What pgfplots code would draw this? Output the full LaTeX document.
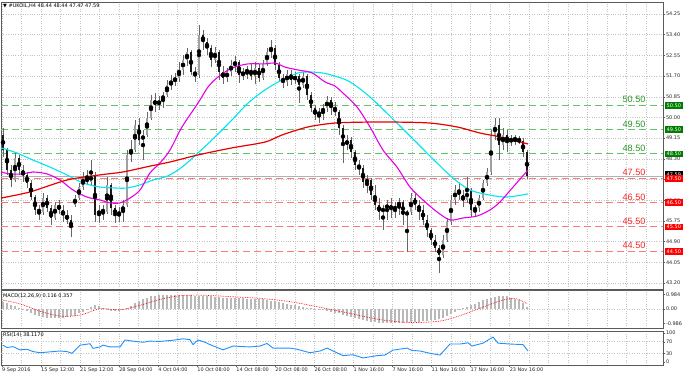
\documentclass[border=0pt]{standalone}
\usepackage{fontspec}
\setmainfont{DejaVu Sans}
\newfontfamily\labfont{Liberation Sans}
\usepackage{pgfplots}
\usepackage{pgfplotstable}
\pgfplotsset{compat=1.18}
\definecolor{lvgreen}{RGB}{100,195,100}
\definecolor{lvred}{RGB}{255,120,120}
\definecolor{txgreen}{RGB}{40,150,40}
\definecolor{txred}{RGB}{245,40,40}
\definecolor{boxgreen}{RGB}{0,125,0}
\definecolor{maR}{RGB}{230,0,0}
\definecolor{maC}{RGB}{0,230,240}
\definecolor{maM}{RGB}{230,0,230}
\definecolor{rsiblue}{RGB}{30,144,255}
\definecolor{bull}{RGB}{160,160,160}
\definecolor{gridc}{RGB}{195,195,195}
\definecolor{frame}{RGB}{90,90,90}
\newcommand{\sm}{\fontsize{5}{6}\selectfont}

\pgfplotstableread{
x o h l c
3 49.28 49.57 48.38 48.66
7 48.66 48.75 47.64 47.84
11 47.84 48.05 47.14 47.43
15 47.43 48.58 47.35 48.33
19 48.33 48.46 47.64 47.84
23 47.84 48.05 47.35 47.64
27 47.64 47.76 47.10 47.31
31 47.31 47.43 46.61 46.73
35 46.73 46.81 45.99 46.20
39 46.20 46.40 45.79 46.12
43 46.12 46.90 45.99 46.69
47 46.69 46.81 46.12 46.28
51 46.28 46.40 45.58 45.87
55 45.87 46.53 45.79 46.40
59 46.40 46.61 46.03 46.20
63 46.20 46.40 45.71 45.99
67 45.99 46.20 45.62 45.79
71 45.79 45.99 45.09 45.46
75 46.40 46.81 46.32 46.69
79 46.69 47.31 46.61 47.14
83 47.14 47.76 47.02 47.51
87 47.51 47.84 47.23 47.35
91 47.35 48.25 47.23 47.64
95 47.64 47.76 45.71 45.99
99 45.99 46.40 45.66 46.20
103 46.20 46.40 45.79 46.12
107 46.12 47.55 46.03 47.23
111 47.23 47.31 45.99 46.28
115 46.28 46.40 45.66 45.99
119 45.99 46.32 45.71 46.12
123 46.12 46.61 45.71 46.40
127 46.40 48.66 46.32 48.46
131 48.46 49.07 48.17 48.66
135 48.66 49.90 48.58 49.69
139 49.69 49.98 48.87 49.07
143 49.07 49.48 48.25 49.28
147 49.28 50.22 49.20 49.98
151 49.98 50.92 49.90 50.72
155 50.72 51.00 50.22 50.51
159 50.51 50.88 50.31 50.72
163 50.72 51.05 50.39 50.92
167 50.92 51.54 50.84 51.33
171 51.33 51.74 51.13 51.46
175 51.46 51.83 51.29 51.62
179 51.62 52.28 51.46 51.95
183 51.95 52.57 51.74 52.36
187 52.36 52.85 52.11 52.69
191 52.69 52.77 51.74 51.87
195 51.87 52.07 51.46 51.74
199 51.74 53.80 51.62 53.39
203 53.39 53.59 52.77 53.10
207 53.10 53.26 52.57 52.85
211 52.85 52.98 52.07 52.36
215 52.36 52.89 52.24 52.69
219 52.69 52.77 51.54 51.87
223 51.87 52.11 51.37 51.62
227 51.62 52.03 51.46 51.87
231 51.87 52.36 51.70 52.16
235 52.16 52.52 51.87 52.28
239 52.28 52.36 51.42 51.74
243 51.74 52.03 51.54 51.87
247 51.87 52.11 51.58 51.95
251 51.95 52.20 51.54 51.70
255 51.70 52.28 51.37 52.03
259 52.03 52.20 51.46 51.62
263 51.62 52.36 51.54 52.20
267 52.20 52.85 52.11 52.69
271 52.69 53.18 52.44 52.85
275 52.85 52.98 51.95 52.16
279 52.16 52.28 51.46 51.62
283 51.62 51.79 51.21 51.46
287 51.46 51.95 51.29 51.79
291 51.79 51.95 51.33 51.54
295 51.54 51.87 51.37 51.70
299 51.70 51.79 50.59 51.33
303 51.33 51.87 51.21 51.70
307 51.70 51.79 50.72 50.92
311 50.92 51.05 50.22 50.39
315 50.39 50.51 49.90 50.10
319 50.10 50.39 49.77 50.22
323 50.22 50.55 49.90 50.39
327 50.39 50.88 50.22 50.72
331 50.72 50.84 50.10 50.39
335 50.39 50.64 50.06 50.22
339 50.22 50.31 49.28 49.57
343 49.57 49.69 48.13 48.87
347 48.87 49.28 48.66 49.07
351 49.07 49.20 48.33 48.58
355 48.58 48.66 47.84 48.05
359 48.05 48.25 47.64 47.92
363 47.92 48.05 47.10 47.35
367 47.35 47.64 46.90 47.43
371 47.43 47.51 46.61 46.81
375 46.81 47.23 46.20 46.40
379 46.40 46.69 45.79 46.12
383 46.12 46.40 45.38 46.28
387 46.28 46.61 45.79 46.40
391 46.40 46.69 45.87 46.20
395 46.20 46.53 45.87 46.36
399 46.36 46.69 45.99 46.53
403 46.53 46.61 45.58 45.99
407 45.99 46.20 44.47 46.12
411 46.12 46.90 45.99 46.69
415 46.69 46.86 46.20 46.40
419 46.40 46.61 45.79 46.20
423 46.20 46.40 45.58 45.79
427 45.79 45.99 45.09 45.38
431 45.38 45.46 44.76 44.97
435 44.97 45.17 44.47 44.64
439 44.64 44.76 43.61 44.35
443 44.35 45.17 44.23 44.97
447 44.97 45.87 44.88 45.71
451 45.71 46.81 45.58 46.61
455 46.61 47.23 46.40 47.02
459 47.02 47.31 46.61 46.81
463 46.81 47.02 46.32 46.61
467 46.61 47.55 46.49 47.02
471 47.02 47.10 45.91 46.20
475 46.20 46.40 45.95 46.28
479 46.28 46.81 46.12 46.69
483 46.69 47.43 46.61 47.31
487 47.31 47.92 47.18 47.76
491 47.76 49.48 47.64 49.28
495 49.28 49.98 49.07 49.69
499 49.69 49.98 48.25 48.87
503 48.87 49.57 48.66 49.28
507 49.28 49.48 48.58 48.99
511 48.99 49.28 48.83 49.16
515 49.16 49.28 48.87 49.07
519 49.07 49.24 48.91 49.03
523 49.03 49.16 48.38 48.58
527 48.58 48.66 47.47 47.59
}\candles

\pgfplotstableread{
x v
3 0.50
7 0.40
11 0.30
15 0.18
19 0.07
23 -0.05
27 -0.16
31 -0.27
35 -0.38
39 -0.48
43 -0.56
47 -0.60
51 -0.62
55 -0.63
59 -0.62
63 -0.58
67 -0.54
71 -0.50
75 -0.45
79 -0.30
83 -0.17
87 -0.03
91 0.12
95 0.25
99 0.22
103 0.10
107 -0.05
111 -0.15
115 -0.15
119 -0.13
123 -0.10
127 0.05
131 0.20
135 0.40
139 0.57
143 0.68
147 0.78
151 0.86
155 0.89
159 0.92
163 0.95
167 0.97
171 0.98
175 0.98
179 0.97
183 0.96
187 0.95
191 0.93
195 0.91
199 0.90
203 0.89
207 0.87
211 0.85
215 0.82
219 0.80
223 0.78
227 0.76
231 0.75
235 0.74
239 0.73
243 0.72
247 0.71
251 0.70
255 0.69
259 0.67
263 0.66
267 0.62
271 0.56
275 0.51
279 0.46
283 0.40
287 0.35
291 0.30
295 0.25
299 0.20
303 0.14
307 0.08
311 0.04
315 -0.01
319 -0.05
323 -0.09
327 -0.14
331 -0.19
335 -0.24
339 -0.30
343 -0.38
347 -0.46
351 -0.54
355 -0.60
359 -0.67
363 -0.74
367 -0.80
371 -0.86
375 -0.89
379 -0.92
383 -0.95
387 -0.97
391 -0.98
395 -0.97
399 -0.95
403 -0.93
407 -0.91
411 -0.89
415 -0.87
419 -0.85
423 -0.83
427 -0.81
431 -0.78
435 -0.72
439 -0.65
443 -0.58
447 -0.45
451 -0.33
455 -0.20
459 -0.08
463 0.04
467 0.14
471 0.24
475 0.36
479 0.48
483 0.58
487 0.67
491 0.76
495 0.84
499 0.87
503 0.89
507 0.86
511 0.78
515 0.70
519 0.60
523 0.40
527 0.12
}\macd

\begin{document}
\begin{tikzpicture}
\useasboundingbox (0,0) rectangle (685bp,377bp);
\pgfplotsset{
  panel/.style={
    scale only axis, width=662bp, xmin=1, xmax=663,
    axis line style={draw=frame, line width=0.7bp},
    ytick pos=right, yticklabel pos=right,
    tick align=outside, major tick length=2bp,
    ytick style={draw=frame, line width=0.4bp},
    yticklabel style={font=\sm, text=black!85, inner sep=0.8bp},
    xtick={2,41.05,80.1,119.15,158.2,197.25,236.3,275.35,314.4,353.45,392.5,431.55,470.6,509.65},
    minor xtick={2,21.52,...,663},
    xminorgrids, minor grid style={gridc, dotted, line width=0.5bp},
    major grid style={gridc, dotted, line width=0.5bp},
    xtick style={draw=none}, minor tick length=0pt,
    xticklabels={},
  },
  lvl/.style={line width=1bp, dash pattern=on 7bp off 4bp},
}
% ===== main price panel =====
\begin{axis}[panel, at={(1bp,88bp)}, anchor=south west, height=287bp,
  ymin=42.953, ymax=54.743, clip=false, ymajorgrids,
  ytick={43.20,44.05,44.90,45.75,46.60,47.45,48.30,49.15,50.00,50.85,51.70,52.55,53.40,54.25},
  yticklabels={43.20,44.05,44.90,45.75,46.60,47.45,48.30,49.15,50.00,50.85,51.70,52.55,53.40,54.25}]
% level lines
\addplot[draw=lvgreen, lvl] coordinates {(1,50.5) (663,50.5)};
\addplot[draw=lvgreen, lvl] coordinates {(1,49.5) (663,49.5)};
\addplot[draw=lvgreen, lvl] coordinates {(1,48.5) (663,48.5)};
\addplot[draw=black!30, line width=0.5bp] coordinates {(1,47.59) (663,47.59)};
\addplot[draw=lvred, lvl] coordinates {(1,47.5) (663,47.5)};
\addplot[draw=lvred, lvl] coordinates {(1,46.5) (663,46.5)};
\addplot[draw=lvred, lvl] coordinates {(1,45.5) (663,45.5)};
\addplot[draw=lvred, lvl] coordinates {(1,44.5) (663,44.5)};
% candles: wicks
\addplot[only marks, mark=none, error bars/.cd, y dir=both, y explicit, error mark=none,
  error bar style={line width=0.6bp, draw=black!60}]
  table[x=x, y expr=(\thisrow{h}+\thisrow{l})/2, y error expr=(\thisrow{h}-\thisrow{l})/2] {\candles};
% bull bodies
\addplot[only marks, mark=none, restrict expr to domain={\thisrow{c}-\thisrow{o}}{0:100},
  error bars/.cd, y dir=both, y explicit, error mark=none,
  error bar style={line width=2.1bp, draw=bull}]
  table[x=x, y expr=(\thisrow{o}+\thisrow{c})/2, y error expr={max(abs(\thisrow{c}-\thisrow{o})/2,0.02)}] {\candles};
% bear bodies
\addplot[only marks, mark=none, restrict expr to domain={\thisrow{o}-\thisrow{c}}{0.001:100},
  error bars/.cd, y dir=both, y explicit, error mark=none,
  error bar style={line width=2.1bp, draw=black!90}]
  table[x=x, y expr=(\thisrow{o}+\thisrow{c})/2, y error expr={max(abs(\thisrow{c}-\thisrow{o})/2,0.02)}] {\candles};
% moving averages
\addplot[maC, line width=1.1bp, smooth] coordinates {
(1,48.75) (17,48.54) (33,48.25) (50,47.96) (67,47.64) (83,47.31) (100,47.14) (117,47.10) (127,47.10) (140,47.23) (153,47.43) (168,47.60) (182,47.96) (198,48.54) (215,49.20) (232,49.90) (248,50.59) (265,51.13) (282,51.54) (298,51.83) (308,51.87) (322,51.83) (335,51.70) (350,51.46) (370,50.84) (397,49.77) (417,48.95) (437,48.13) (453,47.51) (470,47.02) (490,46.81) (507,46.73) (528,46.86)};
\addplot[maM, line width=1.1bp, smooth] coordinates {
(1,47.76) (10,47.68) (23,47.68) (33,47.76) (47,47.68) (60,47.43) (73,47.02) (87,46.73) (100,46.61) (110,46.49) (120,46.49) (130,46.69) (140,47.02) (150,47.72) (160,48.13) (170,48.66) (182,49.61) (198,50.59) (208,51.25) (218,51.66) (232,52.03) (248,52.20) (265,52.20) (275,52.24) (285,52.07) (298,51.95) (312,51.83) (325,51.46) (335,51.29) (343,51.00) (357,50.43) (370,49.61) (383,48.66) (397,47.96) (410,47.14) (423,46.61) (437,46.12) (450,45.79) (463,45.87) (477,45.95) (490,46.20) (500,46.53) (513,47.14) (528,47.84)};
\addplot[maR, line width=1.2bp, smooth] coordinates {
(1,46.69) (30,46.94) (67,47.43) (100,47.64) (123,47.76) (150,48.00) (170,48.17) (198,48.46) (232,48.75) (265,48.99) (282,49.28) (308,49.61) (335,49.77) (367,49.81) (397,49.81) (430,49.77) (457,49.61) (480,49.36) (500,49.20) (528,48.91)};
% level labels
\begin{scope}[every node/.style={anchor=south, inner sep=0.5bp, yshift=1.6bp, font=\labfont\fontsize{9.2}{10}\selectfont}]
\node[text=txgreen] at (axis cs:634,50.5) {50.50};
\node[text=txgreen] at (axis cs:634,49.5) {49.50};
\node[text=txgreen] at (axis cs:634,48.5) {48.50};
\node[text=txred] at (axis cs:634,47.5) {47.50};
\node[text=txred] at (axis cs:634,46.5) {46.50};
\node[text=txred] at (axis cs:634,45.5) {45.50};
\node[text=txred] at (axis cs:634,44.5) {44.50};
\end{scope}
% price boxes on the scale
\begin{scope}[every node/.style={anchor=west, xshift=1.6bp, inner sep=0pt, minimum width=18bp, minimum height=6.6bp, text=white, font=\sm}]
\node[fill=boxgreen] at (axis cs:663,50.5) {50.50};
\node[fill=boxgreen] at (axis cs:663,49.5) {49.50};
\node[fill=boxgreen] at (axis cs:663,48.5) {48.50};
\node[fill=black] at (axis cs:663,47.65) {47.59};
\node[fill=red] at (axis cs:663,47.5) {47.50};
\node[fill=red] at (axis cs:663,46.5) {46.50};
\node[fill=red] at (axis cs:663,45.5) {45.50};
\node[fill=red] at (axis cs:663,44.5) {44.50};
\end{scope}
\node[anchor=west, font=\sm, inner sep=0pt] at (rel axis cs:0,1) [xshift=2bp, yshift=-3.8bp] {▼ \#UKOIL,H4  48.44 48.44 47.47 47.59};
\end{axis}
% ===== MACD panel =====
\begin{axis}[panel, at={(1bp,49bp)}, anchor=south west, height=38bp,
  ymin=-1.29, ymax=1.29, clip=false,
  ytick={-0.986,0,0.984}, yticklabels={-0.986,0.00,0.984}]
\addplot[gridc, dotted, line width=0.5bp] coordinates {(1,0) (663,0)};
\addplot[ycomb, draw=black!28, line width=2.1bp] table[x=x, y=v] {\macd};
\addplot[red, densely dotted, line width=0.7bp, smooth] coordinates {
(3,0.6) (20,0.35) (40,-0.15) (60,-0.48) (80,-0.42) (100,0.02) (120,-0.06) (140,0.25) (160,0.65) (180,0.9) (200,0.94) (230,0.84) (260,0.72) (290,0.5) (320,0.12) (350,-0.3) (380,-0.72) (410,-0.92) (440,-0.82) (460,-0.45) (480,0.05) (500,0.55) (515,0.72) (527,0.36)};
\node[anchor=west, font=\sm, inner sep=0pt] at (rel axis cs:0,1) [xshift=2bp, yshift=-6bp] {MACD(12,26,9) 0.116 0.357};
\end{axis}
% ===== RSI panel =====
\begin{axis}[panel, at={(1bp,12bp)}, anchor=south west, height=34bp,
  ymin=-10.3, ymax=106.9, clip=false,
  ytick={0,30,70,100}, yticklabels={0,30,70,100},
  xtick pos=bottom, xtick style={draw=frame, line width=0.4bp},
  xticklabels={9 Sep 2016,15 Sep 12:00,21 Sep 12:00,28 Sep 04:00,4 Oct 04:00,10 Oct 08:00,14 Oct 08:00,20 Oct 08:00,26 Oct 08:00,1 Nov 16:00,7 Nov 16:00,11 Nov 16:00,17 Nov 16:00,23 Nov 16:00},
  xticklabel style={font=\sm, anchor=north west, inner sep=0.5bp, xshift=-0.6bp, text=black!85}]
\addplot[gridc, dotted, line width=0.5bp] coordinates {(1,70) (663,70)};
\addplot[gridc, dotted, line width=0.5bp] coordinates {(1,30) (663,30)};
\addplot[rsiblue, line width=0.9bp] coordinates {
(3,58) (7,50) (13,53) (20,42) (27,44) (33,36) (40,32) (50,35) (60,38) (67,36) (72,30) (80,58) (90,63) (93,47) (100,52) (103,58) (110,52) (120,52) (125,76) (133,72) (143,68) (150,72) (160,71) (173,75) (183,80) (190,77) (193,60) (198,76) (205,68) (210,60) (223,42) (233,55) (250,52) (260,55) (267,64) (273,48) (290,48) (297,44) (310,32) (320,38) (327,48) (335,35) (343,22) (353,25) (363,14) (377,22) (385,24) (393,41) (407,48) (412,40) (420,38) (430,30) (440,24) (450,62) (460,62) (468,66) (472,55) (483,65) (493,86) (498,65) (510,62) (523,60) (528,38)};
\node[anchor=west, font=\sm, inner sep=0pt] at (rel axis cs:0,1) [xshift=2bp, yshift=-3.5bp] {RSI(14) 38.1170};
\end{axis}
\end{tikzpicture}
\end{document}
